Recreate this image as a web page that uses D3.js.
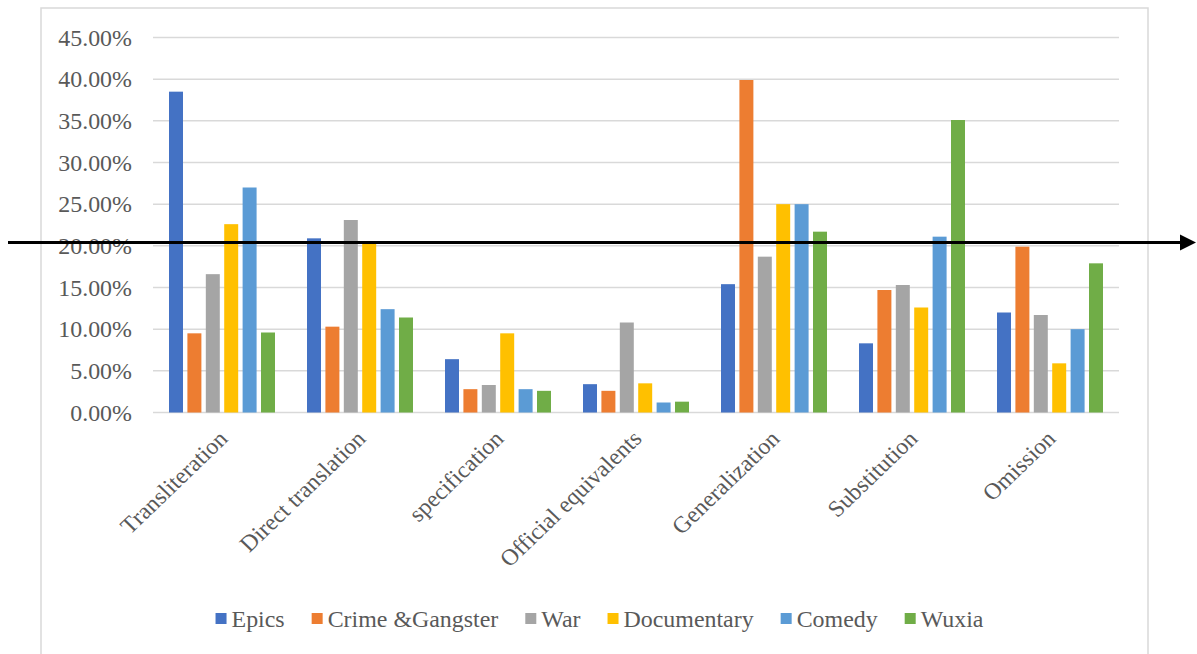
<!DOCTYPE html>
<html>
<head>
<meta charset="utf-8">
<script src="https://cdn.jsdelivr.net/npm/d3@7"></script>
<style>
  html, body { margin: 0; padding: 0; background: #fff; }
  svg { display: block; }
  text { font-family: "Liberation Serif", "Times New Roman", serif; fill: #595959; }
</style>
</head>
<body>
<svg id="chart" width="1197" height="654"></svg>
<script>
// Translation strategies (categories) and film genres (series)
const categories = ["Transliteration", "Direct translation", "specification",
  "Official equivalents", "Generalization", "Substitution", "Omission"];
const seriesNames = ["Epics", "Crime &Gangster", "War", "Documentary", "Comedy", "Wuxia"];

// Share of each strategy per genre (fractions)
const epics       = [0.385, 0.209, 0.064, 0.034, 0.154, 0.083, 0.120];
const crime       = [0.095, 0.103, 0.028, 0.026, 0.399, 0.147, 0.199];
const war         = [0.166, 0.231, 0.033, 0.108, 0.187, 0.153, 0.117];
const documentary = [0.226, 0.204, 0.095, 0.035, 0.250, 0.126, 0.059];
const comedy      = [0.270, 0.124, 0.028, 0.012, 0.250, 0.211, 0.100];
const wuxia       = [0.096, 0.114, 0.026, 0.013, 0.217, 0.351, 0.179];
const seriesValues = [epics, crime, war, documentary, comedy, wuxia];

const yTicks = [0, 0.05, 0.10, 0.15, 0.20, 0.25, 0.30, 0.35, 0.40, 0.45];
const referenceLevel = 0.204;   // horizontal reference arrow

const colors = ["#4472C4", "#ED7D31", "#A5A5A5", "#FFC000", "#5B9BD5", "#70AD47"];

const svg = d3.select("#chart");
const stretch = 1.04;   // slight horizontal text stretch
const fontSize = 23;

// Outer chart frame
svg.append("rect")
  .attr("x", 41).attr("y", 8).attr("width", 1107).attr("height", 670)
  .attr("fill", "none").attr("stroke", "#d9d9d9").attr("stroke-width", 1.5);

const plot = { left: 153, right: 1119, top: 37.5, bottom: 412.5 };

const y = d3.scaleLinear().domain([0, 0.45]).range([plot.bottom, plot.top]);
const x0 = d3.scaleBand().domain(categories).range([plot.left, plot.right]).padding(0);
const x1 = d3.scaleBand().domain(seriesNames).range([0, x0.bandwidth()])
  .paddingInner(0.24).paddingOuter(0.87);

// Gridlines
svg.append("g").selectAll("line").data(yTicks).join("line")
  .attr("x1", plot.left).attr("x2", plot.right)
  .attr("y1", d => y(d)).attr("y2", d => y(d))
  .attr("stroke", "#d9d9d9").attr("stroke-width", 1.5);

// Y-axis labels
const fmt = d => (d * 100).toFixed(2) + "%";
svg.append("g").selectAll("g").data(yTicks).join("g")
  .attr("transform", d => `translate(132,${y(d)}) scale(${stretch},1)`)
  .append("text")
  .attr("text-anchor", "end").attr("dy", "0.35em")
  .attr("font-size", fontSize)
  .text(fmt);

// Bars
const groups = svg.append("g").selectAll("g").data(categories).join("g")
  .attr("transform", d => `translate(${x0(d)},0)`);
groups.selectAll("rect")
  .data((c, ci) => seriesNames.map((s, si) => ({ s, si, v: seriesValues[si][ci] })))
  .join("rect")
  .attr("x", d => x1(d.s))
  .attr("width", x1.bandwidth())
  .attr("y", d => y(d.v))
  .attr("height", d => y(0) - y(d.v))
  .attr("fill", d => colors[d.si]);

// Category labels, rotated
svg.append("g").selectAll("g").data(categories).join("g")
  .attr("transform", d => `translate(${x0(d) + x0.bandwidth() / 2 + 7},440) scale(${stretch},1) rotate(-45)`)
  .append("text")
  .attr("text-anchor", "end")
  .attr("font-size", fontSize)
  .text(d => d);

// Legend
const legend = svg.append("g");
const items = legend.selectAll("g").data(seriesNames).join("g");
items.append("rect")
  .attr("width", 11).attr("height", 11).attr("y", -5.5)
  .attr("fill", (d, i) => colors[i]);
const labels = items.append("g")
  .attr("transform", `translate(16,0) scale(${stretch},1)`)
  .append("text")
  .attr("dy", "0.35em")
  .attr("font-size", fontSize)
  .text(d => d);
let cursor = 0;
items.each(function (d, i) {
  const w = labels.nodes()[i].getComputedTextLength() * stretch;
  d3.select(this).attr("transform", `translate(${cursor},0)`);
  cursor += 16 + w + 27;
});
const legendWidth = cursor - 27;
legend.attr("transform", `translate(${599.5 - legendWidth / 2},618.5)`);

// Reference arrow
const yRef = y(referenceLevel);
svg.append("line")
  .attr("x1", 8).attr("x2", 1182)
  .attr("y1", yRef).attr("y2", yRef)
  .attr("stroke", "#000").attr("stroke-width", 3.2);
svg.append("path")
  .attr("d", `M1180,${yRef - 8}L1196,${yRef}L1180,${yRef + 8}Z`)
  .attr("fill", "#000");
</script>
</body>
</html>
